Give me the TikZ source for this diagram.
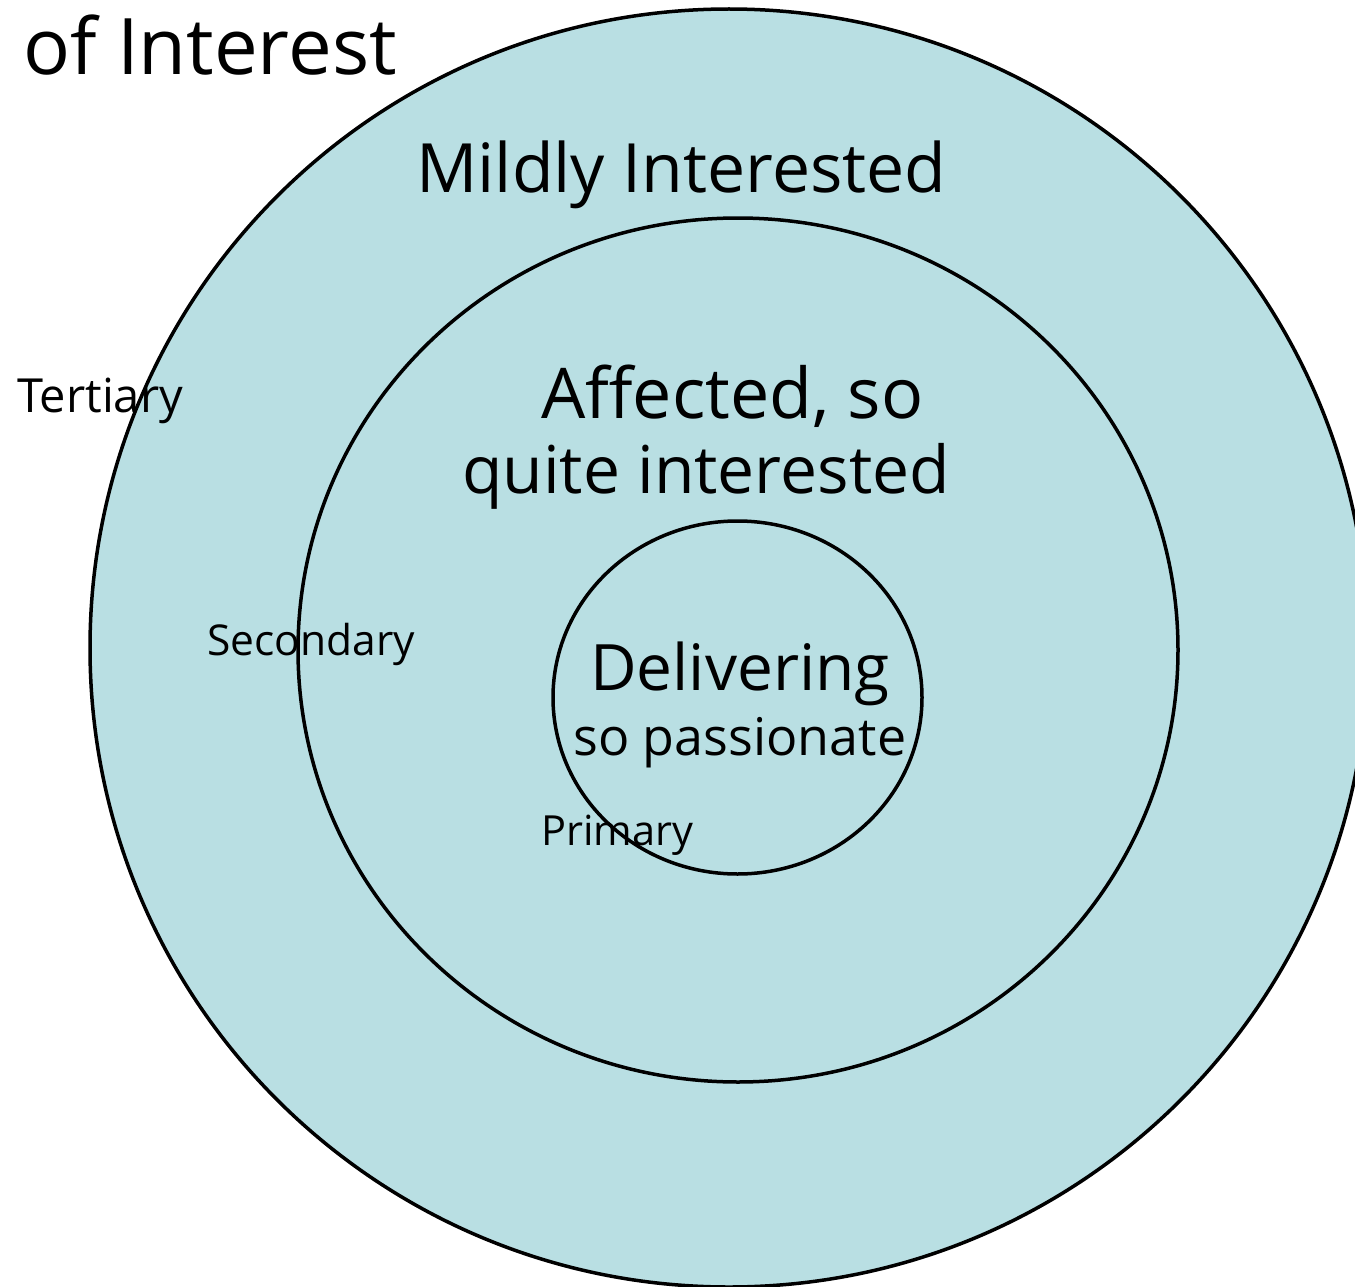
\documentclass[tikz,border=0pt]{standalone}
\usepackage{fontspec}
\setmainfont{Open Sans}
\definecolor{ringblue}{HTML}{B9DFE3}
\tikzset{
  ring/.style={fill=ringblue,draw=black,line width=3.5pt},
  label/.style={inner sep=0pt,anchor=base west},
  fsize/.style={font=\fontsize{#1}{#1}\selectfont}
}
\begin{document}
\begin{tikzpicture}[x=1pt,y=-1pt]
        \useasboundingbox (0,0) rectangle (1355,1287);
        \begin{scope}
        \clip (0,0) rectangle (1355,1287);
        % rings, outside in
        \draw[ring] (729,648) ellipse (639 and 639);
        \draw[ring] (738,650) ellipse (440 and 432);
        \draw[ring] (737.5,697.5) ellipse (184.5 and 176.5);
        \end{scope}
        % title, cut at the left edge
        \node[label,fsize=78,anchor=base east] (title) at (397,75) {of Interest};
        \node[label,fsize=68] (mild) at (416,193) {Mildly Interested};
        \node[label,fsize=70] (affA) at (541,418) {Affected, so};
        \node[label,fsize=66] (affB) at (462,493) {quite interested};
        \node[label,fsize=64] (deliv) at (590,690) {Delivering};
        \node[label,fsize=52] (pass) at (573,755) {so passionate};
        % ring names
        \node[label,fsize=47] (tert) at (17,412) {Tertiary};
        \node[label,fsize=42.5] (second) at (207,655) {Secondary};
        \node[label,fsize=41.5] (prim) at (541,845) {Primary};
\end{tikzpicture}
\end{document}
